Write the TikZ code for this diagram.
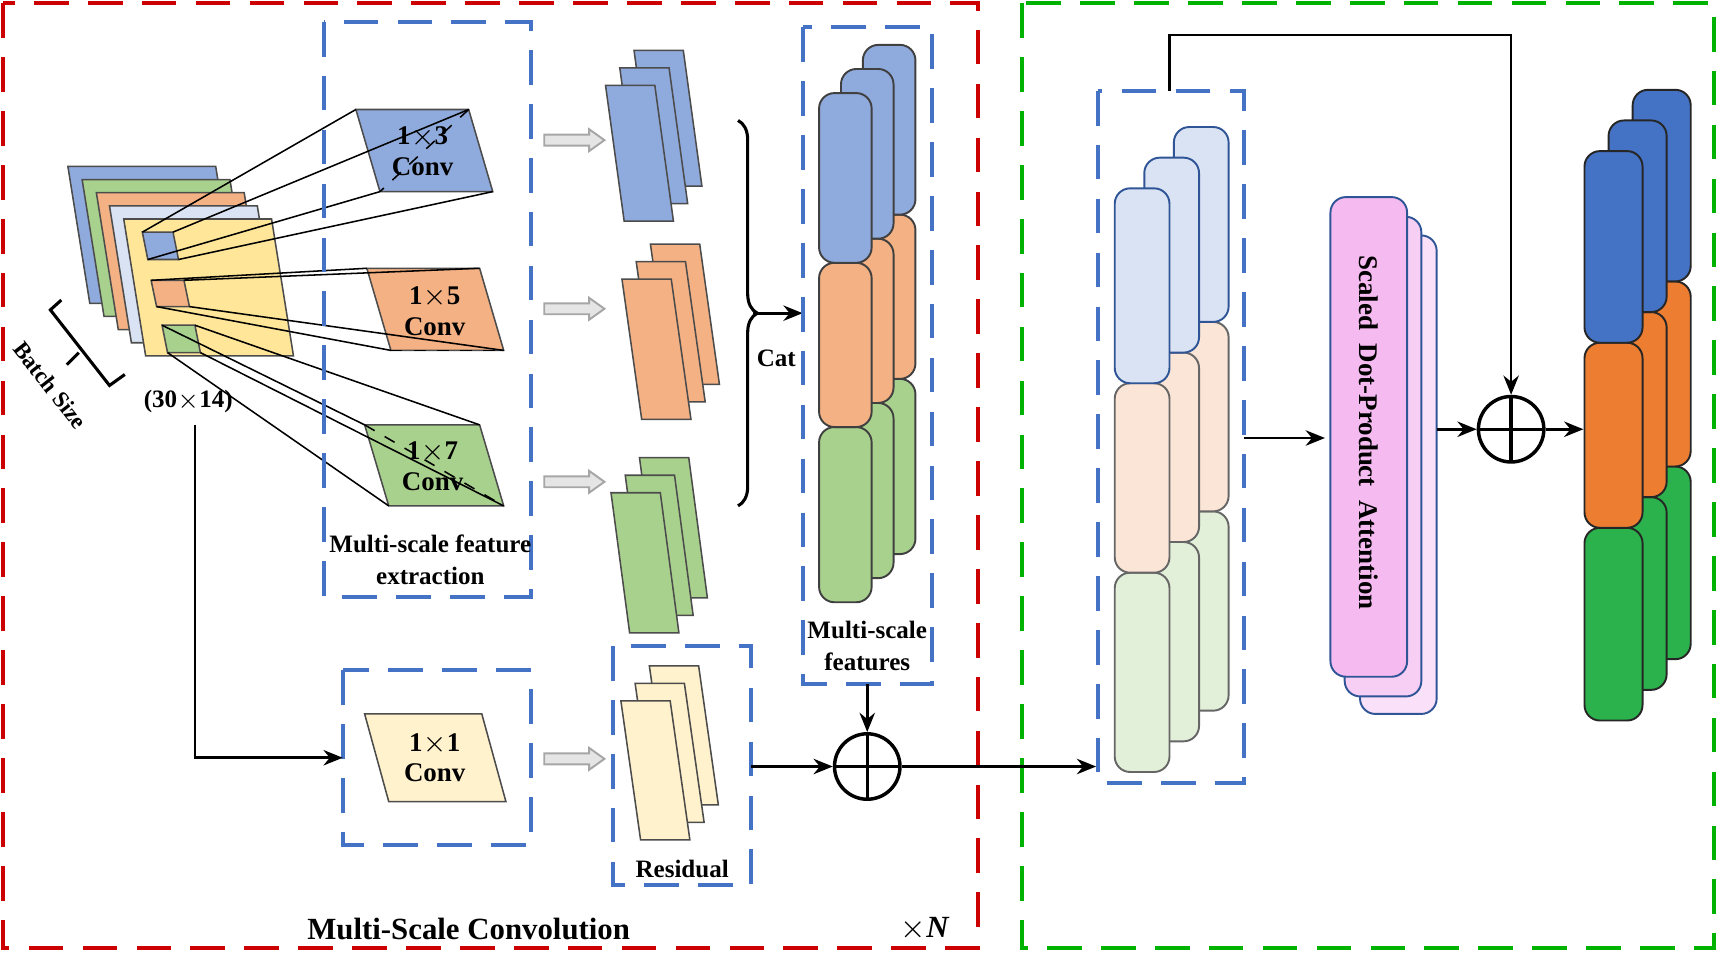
\documentclass[tikz,border=0pt]{standalone}
\usepackage{fontspec}
\setmainfont{Liberation Serif}
\usetikzlibrary{arrows.meta,decorations.pathreplacing,calc}
\definecolor{cblue}{HTML}{8FAADC}
\definecolor{cblueE}{HTML}{2F5597}
\definecolor{corange}{HTML}{F4B183}
\definecolor{cgreen}{HTML}{A9D18E}
\definecolor{cyellow}{HTML}{FFE699}
\definecolor{cpale}{HTML}{FFF2CC}
\definecolor{clblue}{HTML}{DAE3F3}
\definecolor{cpeach}{HTML}{FBE5D6}
\definecolor{clgreen}{HTML}{E2F0D9}
\definecolor{cpink}{HTML}{F5BAF0}
\definecolor{sblue}{HTML}{4472C4}
\definecolor{sorange}{HTML}{ED7D31}
\definecolor{sgreen}{HTML}{2BB24C}
\definecolor{dblue}{HTML}{4472C4}
\tikzset{
  box/.style={draw=dblue,dashed,dash pattern=on 9pt off 5pt,line width=1pt},
  slab/.style={draw=black!70,line width=0.4pt},
  blk/.style={rounded corners=4pt,draw=black!75,line width=0.5pt},
  lbl/.style={font=\bfseries\fontsize{6}{7}\selectfont,align=center},
  arr/.style={-{Stealth[length=5pt,width=4pt]},line width=0.7pt},
  hollow/.style={fill=gray!20,draw=gray!70,line width=0.5pt},
  osum/.style={circle,draw,line width=0.9pt,minimum size=17pt,inner sep=0pt,
    path picture={\draw[line width=0.9pt] (path picture bounding box.north)--(path picture bounding box.south)
    (path picture bounding box.west)--(path picture bounding box.east);}}
}
% slanted slab: x, y (top left), width, height, slant
\newcommand\slabat[6]{\fill[#6] (#1,#2)--++(#3,0)--++(#5,#4)--++(-#3,0)--cycle;
  \draw[slab] (#1,#2)--++(#3,0)--++(#5,#4)--++(-#3,0)--cycle;}
\newcommand\grayarrow[2]{\draw[hollow] (#1,#2+5)--++(41,0)--++(0,5)--++(14,-10)--++(-14,-10)--++(0,5)--++(-41,0)--cycle;}
\begin{document}
\begin{tikzpicture}[x=0.01cm,y=-0.01cm]
\useasboundingbox (0,0) rectangle (1568,873);
% outer frames
\draw[draw=red!80!black,dashed,dash pattern=on 9pt off 5pt,line width=1pt] (3,3) rectangle (893,866);
\draw[draw=green!70!black,dashed,dash pattern=on 9pt off 5pt,line width=1pt] (933,3) rectangle (1565,866);
% input stack
\slabat{62}{152}{135}{125}{20}{cblue}
\slabat{75}{164}{135}{125}{20}{cgreen}
\slabat{88}{176}{135}{125}{20}{corange}
\slabat{100}{188}{135}{125}{20}{clblue}
\slabat{113}{200}{135}{125}{20}{cyellow}
\slabat{130}{212}{28}{25}{5}{cblue}
\slabat{138}{256}{30}{24}{5}{corange}
\slabat{148}{297}{30}{25}{5}{cgreen}
\coordinate (s3a) at (130,212); \coordinate (s3b) at (158,212); \coordinate (s3c) at (163,237); \coordinate (s3d) at (135,237);
\coordinate (s5a) at (138,256); \coordinate (s5b) at (168,256); \coordinate (s5c) at (173,280); \coordinate (s5d) at (143,280);
\coordinate (s7a) at (148,297); \coordinate (s7b) at (178,297); \coordinate (s7c) at (183,322); \coordinate (s7d) at (153,322);
% conv kernels
\slabat{325}{100}{103}{75}{22}{cblue}
\slabat{335}{245}{103}{75}{22}{corange}
\slabat{333}{388}{105}{74}{22}{cgreen}
\slabat{333}{652}{107}{80}{22}{cpale}
\coordinate (k3a) at (325,100); \coordinate (k3b) at (428,100); \coordinate (k3c) at (450,175); \coordinate (k3d) at (347,175);
\coordinate (k5a) at (335,245); \coordinate (k5b) at (438,245); \coordinate (k5c) at (460,320); \coordinate (k5d) at (357,320);
\coordinate (k7a) at (333,388); \coordinate (k7b) at (438,388); \coordinate (k7c) at (460,462); \coordinate (k7d) at (355,462);
\draw (s3a)--(k3a) (s3d)--(k3d) (s3c)--(k3c) (s3b)--(k3b);
\draw[dashed] (k3b)--(k3d);
\draw (s5a)--(k5a) (s5b)--(k5b) (s5d)--(k5d) (s5c)--(k5c);
\draw[dashed] (k5d)--(k5c);
\draw (s7a)--(k7a) (s7b)--(k7b) (s7d)--(k7d) (s7c)--(k7c);
\draw[dashed] (k7a)--(k7c);
\node[lbl,font=\bfseries\fontsize{7}{8}\selectfont] at (386,138) {1$\times$3\\Conv};
\node[lbl,font=\bfseries\fontsize{7}{8}\selectfont] at (397,284) {1$\times$5\\Conv};
\node[lbl,font=\bfseries\fontsize{7}{8}\selectfont] at (395,426) {1$\times$7\\Conv};
\node[lbl,font=\bfseries\fontsize{7}{8}\selectfont] at (397,692) {1$\times$1\\Conv};
% batch bracket
\draw[line width=0.8pt] (56,274)--(46,283)--(100,352)--(114,342);
\draw[line width=0.8pt] (72,322)--(61,333);
\node[lbl,rotate=-52,inner sep=0pt] at (46,352) {Batch Size};
\node[lbl,font=\bfseries\fontsize{6.5}{7.5}\selectfont] at (172,367) {(30$\times$14)};
% dashed groups
\draw[box] (296,20) rectangle (485,545);
\node[lbl,font=\bfseries\fontsize{6.5}{8.2}\selectfont] at (393,511) {Multi-scale feature\\extraction};
\draw[box] (313,612) rectangle (485,772);
\draw[box] (560,590) rectangle (686,808);
\node[lbl,font=\bfseries\fontsize{6.5}{7.5}\selectfont] at (623,794) {Residual};
% gray arrows
\grayarrow{497}{128}
\grayarrow{497}{282}
\grayarrow{497}{440}
\grayarrow{497}{693}
% feature slabs
\foreach \i in {2,1,0}{
  \slabat{553+13*\i}{78-16*\i}{45}{124}{17}{cblue}
  \slabat{568+13*\i}{255-16*\i}{45}{128}{18}{corange}
  \slabat{558+13*\i}{450-16*\i}{45}{128}{17}{cgreen}
  \slabat{567+13*\i}{640-16*\i}{45}{127}{18}{cpale}
}
% cat brace
\draw[decorate,decoration={brace,amplitude=5pt},line width=0.8pt] (674,110)--(674,462);
\coordinate (cat) at (688,286);
\coordinate (catend) at (733,286);
\draw[arr] (cat)--(catend);
\node[lbl,font=\bfseries\fontsize{6.5}{7.5}\selectfont] at (709,327) {Cat};
% multi-scale features
\draw[box] (733,25) rectangle (851,625);
\foreach \i in {2,1,0}{
  \draw[blk,fill=cgreen] (748+20*\i,390-22*\i) rectangle ++(48,160);
  \draw[blk,fill=corange] (748+20*\i,240-22*\i) rectangle ++(48,150);
  \draw[blk,fill=cblue] (748+20*\i,85-22*\i) rectangle ++(48,155);
}
\node[lbl,font=\bfseries\fontsize{6.5}{8.2}\selectfont] at (792,590) {Multi-scale\\features};
% residual sum
\node[osum] (sumA) at (792,700) {};
\coordinate (featB) at (792,625);
\coordinate (resR) at (686,700);
\coordinate (inp) at (178,388);
\coordinate (convL) at (313,692);
\draw[arr] (featB)--(sumA);
\draw[arr] (resR)--(sumA);
\draw[arr] (inp)|-(convL);
\coordinate (encL) at (1001,700);
\draw[arr] (sumA)--(encL);
\node[lbl,font=\bfseries\fontsize{8}{9}\selectfont] at (428,848) {Multi-Scale Convolution};
\node[lbl,font=\bfseries\fontsize{8}{9}\selectfont] at (845,848) {$\times$\textit{N}};
% transformer input stack
\draw[box] (1003,83) rectangle (1136,715);
\foreach \i in {2,1,0}{
  \draw[blk,draw=black!60,fill=clgreen] (1018+27*\i,523-28*\i) rectangle ++(50,182);
  \draw[blk,draw=black!60,fill=cpeach] (1018+27*\i,350-28*\i) rectangle ++(50,173);
  \draw[blk,draw=cblueE,fill=clblue] (1018+27*\i,172-28*\i) rectangle ++(50,178);
}
% attention
\draw[blk,draw=cblueE,fill=cpink!45] (1242,215) rectangle (1312,652);
\draw[blk,draw=cblueE,fill=cpink!70] (1228,198) rectangle (1298,636);
\draw[blk,draw=cblueE,fill=cpink] (1215,180) rectangle (1285,618);
\node[lbl,rotate=-90,font=\bfseries\fontsize{7}{8}\selectfont] (att) at (1250,395) {Scaled\ \ Dot-Product\ \ Attention};
\coordinate (encR) at (1136,400);
\coordinate (attL) at (1210,400);
\draw[arr] (encR)--(attL);
\node[osum] (sumB) at (1380,392) {};
\coordinate (attR) at (1312,392);
\draw[arr] (attR)--(sumB);
\coordinate (outL) at (1446,392);
\draw[arr] (sumB)--(outL);
\coordinate (encT) at (1068,83);
\draw[arr] (encT)--(1068,32)-|(sumB);
% output stack
\foreach \i in {2,1,0}{
  \draw[blk,draw=black!85,fill=sgreen] (1447+22*\i,482-28*\i) rectangle ++(53,176);
  \draw[blk,draw=black!85,fill=sorange] (1447+22*\i,313-28*\i) rectangle ++(53,169);
  \draw[blk,draw=black!85,fill=sblue] (1447+22*\i,138-28*\i) rectangle ++(53,175);
}
\end{tikzpicture}
\end{document}
